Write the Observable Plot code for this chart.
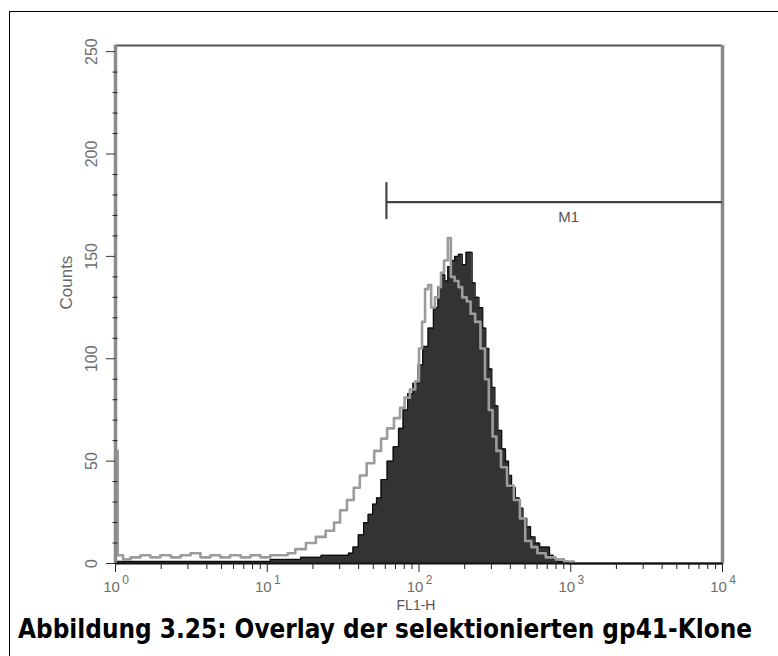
<!DOCTYPE html>
<html>
<head>
<meta charset="utf-8">
<script src="https://cdn.jsdelivr.net/npm/d3@7"></script>
<script src="https://cdn.jsdelivr.net/npm/@observablehq/plot@0.6"></script>
<style>
html, body { margin: 0; padding: 0; background: #fff; }
#wrap { position: relative; width: 778px; height: 656px; overflow: hidden; background: #fff; }
#border { position: absolute; left: 9px; top: 11px; width: 900px; height: 800px; border-left: 1.5px solid #000; border-top: 1.5px solid #000; }
#chart { position: absolute; left: 0; top: 0; }
#caption { position: absolute; left: 18px; top: 615px; font: bold 27px "DejaVu Sans", Verdana, sans-serif; line-height: 27px; white-space: nowrap; color: #000; transform-origin: 0 0; }
</style>
</head>
<body>
<div id="wrap">
  <div id="border"></div>
  <div id="chart"></div>
  <div id="caption"><span id="captext">Abbildung 3.25: Overlay der selektionierten gp41-Klone</span></div>
</div>
<script>
// ---- data (FL1-H given as log10 of intensity, counts per channel) ----
const darkLog = [0.00, 0.23, 0.56, 0.89, 1.15, 1.29, 1.42, 1.52, 1.55, 1.58, 1.62, 1.65, 1.68, 1.71, 1.73, 1.77, 1.81, 1.85, 1.88, 1.91, 1.94, 1.98, 2.01, 2.04, 2.08, 2.11, 2.14, 2.16, 2.18, 2.20, 2.22, 2.25, 2.27, 2.30, 2.32, 2.34, 2.36, 2.38, 2.41, 2.43, 2.45, 2.47, 2.49, 2.51, 2.53, 2.56, 2.58, 2.60, 2.62, 2.65, 2.67, 2.70, 2.72, 2.75, 2.78, 2.81, 2.85, 2.87, 2.90, 2.93, 3.03, 4.00];
const darkCounts = [1, 1, 1, 1, 2, 3, 4, 4, 5, 8, 14, 20, 24, 29, 32, 41, 50, 57, 66, 75, 83, 88, 97, 106, 115, 125, 135, 141, 138, 145, 148, 150, 151, 146, 152, 152, 137, 130, 125, 115, 105, 95, 86, 77, 65, 56, 50, 43, 37, 32, 27, 22, 18, 13, 10, 8, 8, 4, 2, 1, 0, 0];

const grayLog = [0.00, 0.03, 0.07, 0.13, 0.20, 0.26, 0.33, 0.40, 0.46, 0.53, 0.59, 0.66, 0.72, 0.79, 0.86, 0.92, 0.99, 1.05, 1.12, 1.15, 1.22, 1.29, 1.35, 1.42, 1.46, 1.50, 1.55, 1.59, 1.63, 1.68, 1.73, 1.77, 1.81, 1.86, 1.89, 1.92, 1.96, 1.99, 2.01, 2.03, 2.05, 2.07, 2.09, 2.12, 2.14, 2.15, 2.18, 2.20, 2.22, 2.25, 2.27, 2.30, 2.33, 2.35, 2.39, 2.42, 2.45, 2.47, 2.50, 2.52, 2.56, 2.60, 2.65, 2.68, 2.72, 2.76, 2.80, 2.87, 2.93, 2.98, 3.06, 4.00];
const grayCounts = [55, 4, 2, 3, 4, 3, 4, 3, 4, 5, 3, 4, 3, 4, 3, 4, 3, 4, 4, 5, 7, 10, 13, 16, 20, 26, 31, 37, 43, 49, 55, 61, 66, 71, 76, 81, 85, 89, 105, 118, 134, 136, 125, 130, 135, 142, 148, 159, 140, 138, 135, 130, 128, 122, 118, 105, 90, 75, 62, 55, 47, 38, 31, 22, 11, 8, 5, 3, 2, 1, 0, 0];

// marker M1
const m1Start = 61, m1End = 10000, m1Level = 176.5, m1BarLow = 168, m1BarHigh = 186;
const m1Label = "M1", m1LabelX = 970;

// axes
const xMajor = [1, 10, 100, 1000, 10000];
const xExponents = ["0", "1", "2", "3", "4"];
const xMinor = [2,3,4,5,6,7,8,9, 20,30,40,50,60,70,80,90, 200,300,400,500,600,700,800,900, 2000,3000,4000,5000,6000,7000,8000,9000];
const yMajor = [0, 50, 100, 150, 200, 250];
const yMinor = [10,20,30,40, 60,70,80,90, 110,120,130,140, 160,170,180,190, 210,220,230,240];
const yTop = 253;
const xTitle = "FL1-H", yTitle = "Counts";

const dark = darkLog.map((e, i) => ({fl1: Math.pow(10, e), count: darkCounts[i]}));
const gray = grayLog.map((e, i) => ({fl1: Math.pow(10, e), count: grayCounts[i]}));
const xLab = xMajor.map((v, i) => ({v, exp: xExponents[i]}));

const labelFont = "'Liberation Sans', Arial, sans-serif";
const chart = Plot.plot({
  width: 778, height: 600,
  marginLeft: 115, marginRight: 56, marginTop: 45, marginBottom: 37,
  style: {fontFamily: labelFont, background: "transparent", overflow: "visible"},
  x: {type: "log", domain: [1, 10000], label: null},
  y: {domain: [0, yTop], label: null},
  marks: [
    Plot.areaY(dark, {x: "fl1", y: "count", curve: "step", fill: "#333"}),
    Plot.lineY(dark, {x: "fl1", y: "count", curve: "step", stroke: "#0d0d0d", strokeWidth: 1.3}),
    Plot.lineY(gray, {x: "fl1", y: "count", curve: "step", stroke: "#9c9c9c", strokeWidth: 2.6}),
    Plot.ruleY([yTop], {stroke: "#555", strokeWidth: 2}),
    Plot.ruleX([1], {stroke: "#8a8a8a", strokeWidth: 3.5}),
    Plot.ruleX([10000], {stroke: "#8a8a8a", strokeWidth: 3.5}),
    Plot.ruleY([0], {stroke: "#111", strokeWidth: 2.2}),
    Plot.axisY({ticks: yMajor, tickSize: 9, tickFormat: () => "", stroke: "#333", label: null}),
    Plot.axisY({ticks: yMinor, tickSize: 5, tickFormat: () => "", dx: 2.5, stroke: "#222", label: null}),
    Plot.text(yMajor, {x: 1, y: d => d, text: d => String(d), rotate: -90, dx: -24, fontSize: 16, fill: "#6e6e6e"}),
    Plot.axisX({ticks: xMajor, tickSize: 9, tickFormat: () => "", stroke: "#222", label: null}),
    Plot.axisX({ticks: xMinor, tickSize: 6, tickFormat: () => "", stroke: "#222", label: null}),
    Plot.text(xLab, {x: "v", y: 0, text: () => "10", dx: -4, dy: 24, fontSize: 15, fill: "#6e6e6e"}),
    Plot.text(xLab, {x: "v", y: 0, text: "exp", dx: 10, dy: 17, fontSize: 12, fill: "#6e6e6e"}),
    Plot.text([yTitle], {frameAnchor: "left", rotate: -90, dx: -49, dy: 5, fontSize: 17, fill: "#666"}),
    Plot.text([xTitle], {frameAnchor: "bottom", dx: -3, dy: 46, fontSize: 14, fill: "#555"}),
    Plot.ruleY([m1Level], {x1: m1Start, x2: m1End, stroke: "#444", strokeWidth: 2.2}),
    Plot.ruleX([m1Start], {y1: m1BarLow, y2: m1BarHigh, stroke: "#444", strokeWidth: 2.2}),
    Plot.text([m1Label], {x: m1LabelX, y: m1Level, dy: 15, fontSize: 15, fill: "#555"})
  ]
});
document.getElementById("chart").appendChild(chart);

// fit caption width to the original
const cap = document.getElementById("captext");
const w = cap.getBoundingClientRect().width;
document.getElementById("caption").style.transform = `scaleX(${734 / w})`;
</script>
</body>
</html>
